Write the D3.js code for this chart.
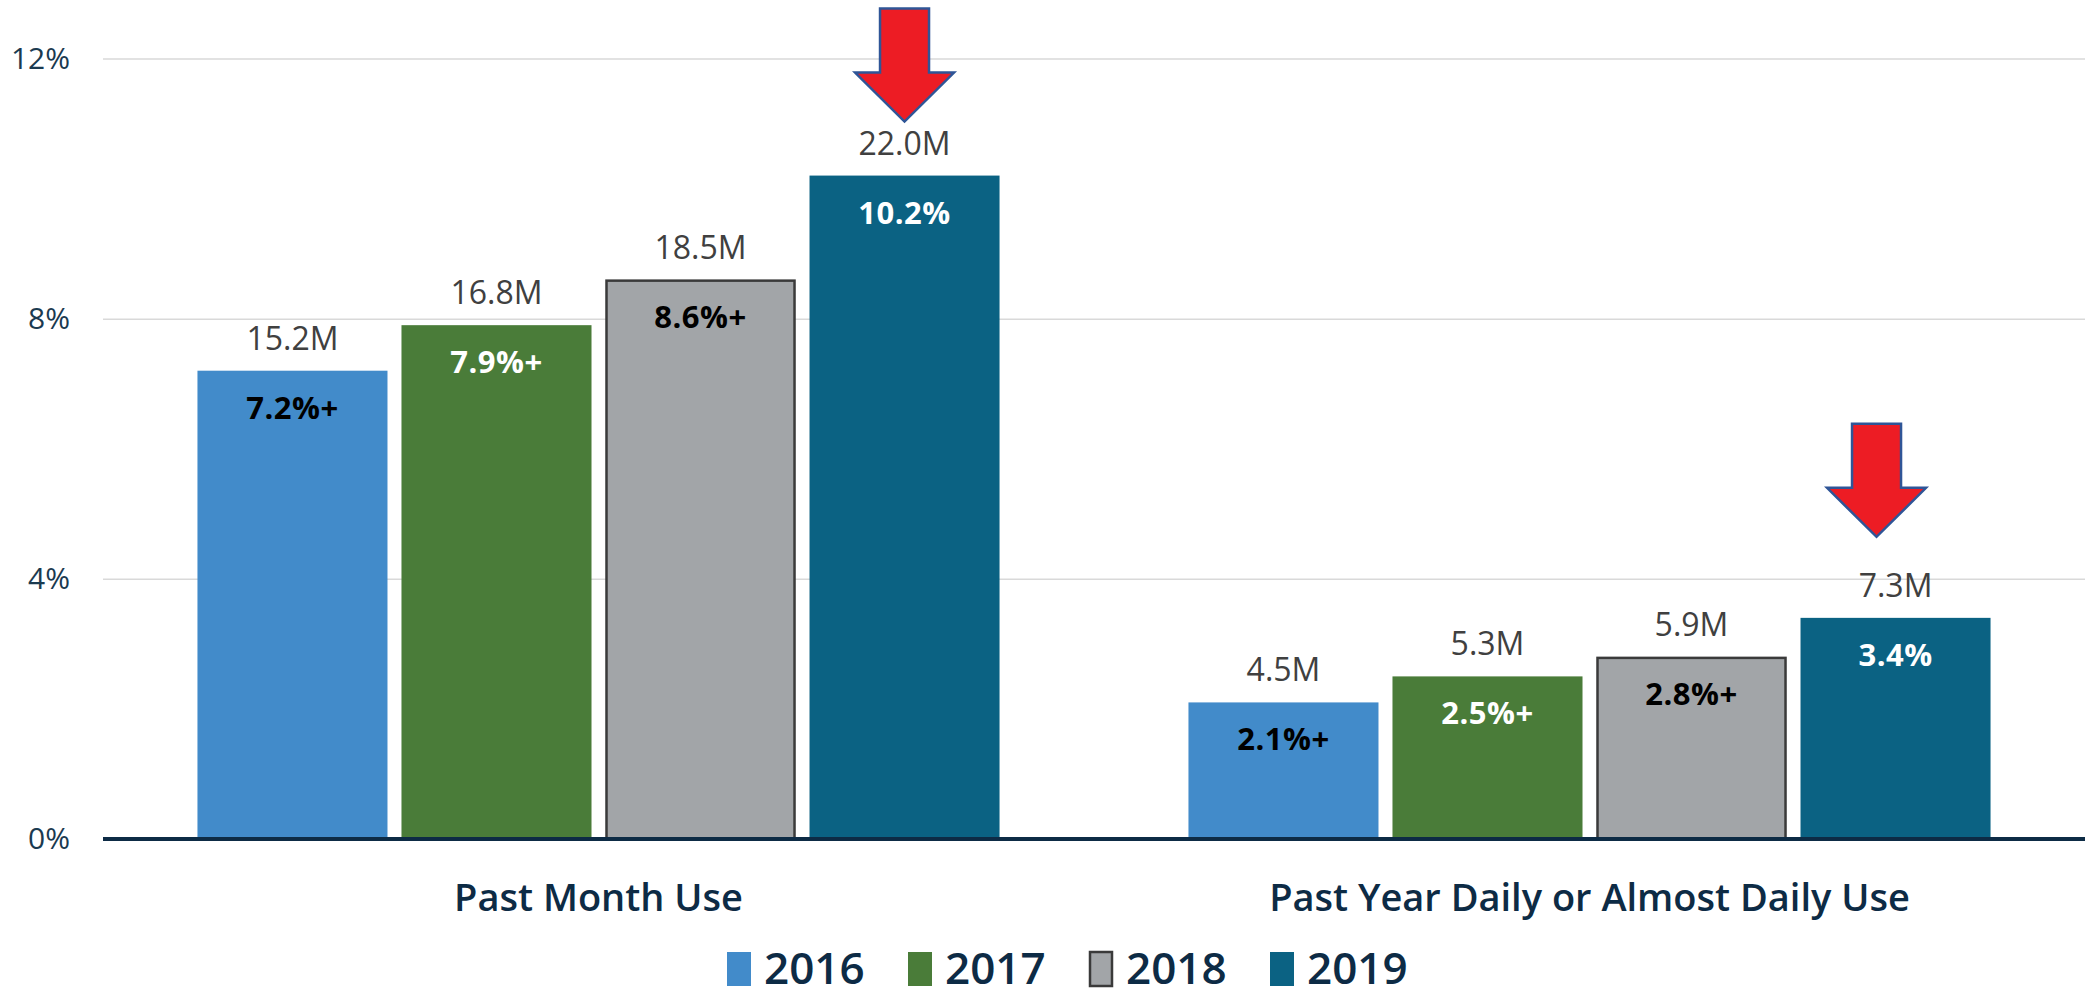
<!DOCTYPE html>
<html>
<head>
<meta charset="utf-8">
<script src="https://cdn.jsdelivr.net/npm/d3@7"></script>
<style>
	body { margin: 0; background: #fff; }
	text { font-family: 'Open Sans', sans-serif; }
</style>
</head>
<body>
<svg id="myChart" width="2085" height="996"></svg>
<script>
// Data
const categories = ['Past Month Use', 'Past Year Daily or Almost Daily Use'];
const years = ['2016', '2017', '2018', '2019'];
const percentValues = [
	[7.2, 7.9, 8.6, 10.2],
	[2.1, 2.5, 2.8, 3.4]
];
const countLabels = [
	['15.2M', '16.8M', '18.5M', '22.0M'],
	['4.5M', '5.3M', '5.9M', '7.3M']
];
const percentLabels = [
	['7.2%+', '7.9%+', '8.6%+', '10.2%'],
	['2.1%+', '2.5%+', '2.8%+', '3.4%']
];
const yTicks = [0, 4, 8, 12];
// which bars get a red arrow: [category index, year index]
const arrowBars = [[0, 3], [1, 3]];

// Styles
const barColors = ['#428bca', '#4a7c39', '#a2a5a8', '#0b6283'];
const barStrokes = ['none', 'none', '#3a3a3a', 'none'];
const innerTextColors = ['#000', '#fff', '#000', '#fff'];
const arrowOffsets = [{ dx: 0, gap: 54 }, { dx: -19, gap: 81 }];

let svg = d3.select('#myChart');

let xScale = d3.scaleBand()
	.domain(categories)
	.range([103, 2085])
	.padding(0);

let xInner = d3.scaleBand()
	.domain(years)
	.range([0, xScale.bandwidth()])
	.paddingInner(0.0686)
	.paddingOuter(0.463);

let yScale = d3.scaleLinear()
	.domain([0, 12])
	.range([839, 58.5]);

// Gridlines + y labels
let yAxis = svg.append('g')
	.attr('transform', 'translate(103, 0)')
	.call(d3.axisLeft(yScale)
		.tickValues(yTicks)
		.tickSize(-1982)
		.tickFormat(d => d + '%')
		.tickPadding(33));

yAxis.select('.domain').remove();
yAxis.selectAll('.tick line')
	.attr('stroke', '#d9d9d9')
	.attr('stroke-width', 1.5);
yAxis.selectAll('.tick text')
	.attr('fill', '#1b3a50')
	.style('font-size', '30px')
	.style('font-family', "'Open Sans', sans-serif");

// Flatten for bars
let barData = [];
categories.forEach((cat, ci) => {
	years.forEach((yr, yi) => {
		barData.push({
			cat, yr, ci, yi,
			value: percentValues[ci][yi],
			count: countLabels[ci][yi],
			pct: percentLabels[ci][yi]
		});
	});
});

let barX = d => xScale(d.cat) + xInner(d.yr);

svg.append('g')
	.selectAll('rect')
	.data(barData)
	.enter()
	.append('rect')
		.attr('x', d => barX(d) + (barStrokes[d.yi] === 'none' ? 0 : 1))
		.attr('y', d => yScale(d.value) + (barStrokes[d.yi] === 'none' ? 0 : 1))
		.attr('width', d => xInner.bandwidth() - (barStrokes[d.yi] === 'none' ? 0 : 2))
		.attr('height', d => yScale(0) - yScale(d.value) - (barStrokes[d.yi] === 'none' ? 0 : 1))
		.attr('fill', d => barColors[d.yi])
		.attr('stroke', d => barStrokes[d.yi])
		.attr('stroke-width', 2.5);

// baseline
svg.append('line')
	.attr('x1', 103)
	.attr('x2', 2085)
	.attr('y1', yScale(0))
	.attr('y2', yScale(0))
	.attr('stroke', '#0d2b45')
	.attr('stroke-width', 4);

// count labels above bars
svg.append('g')
	.selectAll('text')
	.data(barData)
	.enter()
	.append('text')
		.attr('x', d => barX(d) + xInner.bandwidth() / 2)
		.attr('y', d => yScale(d.value) - 21)
		.attr('text-anchor', 'middle')
		.attr('fill', '#404040')
		.style('font-size', '32px')
		.text(d => d.count);

// percent labels inside bars
svg.append('g')
	.selectAll('text')
	.data(barData)
	.enter()
	.append('text')
		.attr('x', d => barX(d) + xInner.bandwidth() / 2)
		.attr('y', d => yScale(d.value) + 48)
		.attr('text-anchor', 'middle')
		.attr('fill', d => innerTextColors[d.yi])
		.style('font-size', '31px')
		.style('font-weight', 700)
		.style('letter-spacing', '0.5px')
		.text(d => d.pct);

// category labels
svg.append('g')
	.selectAll('text')
	.data(categories)
	.enter()
	.append('text')
		.attr('x', d => xScale(d) + xScale.bandwidth() / 2)
		.attr('y', 911)
		.attr('text-anchor', 'middle')
		.attr('fill', '#0d2b45')
		.style('font-size', '38px')
		.style('font-weight', 600)
		.text(d => d);

// red arrows
let arrowPath = 'M-24.5,0 L24.5,0 L24.5,64 L49.5,64 L0,113 L-49.5,64 L-24.5,64 Z';
svg.append('g')
	.selectAll('path')
	.data(arrowBars)
	.enter()
	.append('path')
		.attr('d', arrowPath)
		.attr('fill', '#ed1c24')
		.attr('stroke', '#2f5597')
		.attr('stroke-width', 2.5)
		.attr('transform', (d, i) => {
			let cat = categories[d[0]], yr = years[d[1]];
			let cx = xScale(cat) + xInner(yr) + xInner.bandwidth() / 2 + arrowOffsets[i].dx;
			let tipY = yScale(percentValues[d[0]][d[1]]) - arrowOffsets[i].gap;
			return `translate(${cx}, ${tipY - 113})`;
		});

// legend
let legend = svg.append('g')
	.attr('transform', 'translate(727, 0)');

let legendItems = legend.selectAll('g')
	.data(years)
	.enter()
	.append('g')
		.attr('transform', (d, i) => `translate(${i * 181}, 0)`);

legendItems.append('rect')
	.attr('x', (d, i) => barStrokes[i] === 'none' ? 0 : 1)
	.attr('y', 952)
	.attr('width', (d, i) => barStrokes[i] === 'none' ? 24 : 22)
	.attr('height', 34)
	.attr('fill', (d, i) => barColors[i])
	.attr('stroke', (d, i) => barStrokes[i])
	.attr('stroke-width', 2.5);

legendItems.append('text')
	.attr('x', 37)
	.attr('y', 984)
	.attr('fill', '#0d2b45')
	.style('font-size', '44px')
	.style('font-weight', 600)
	.text(d => d);
</script>
</body>
</html>
